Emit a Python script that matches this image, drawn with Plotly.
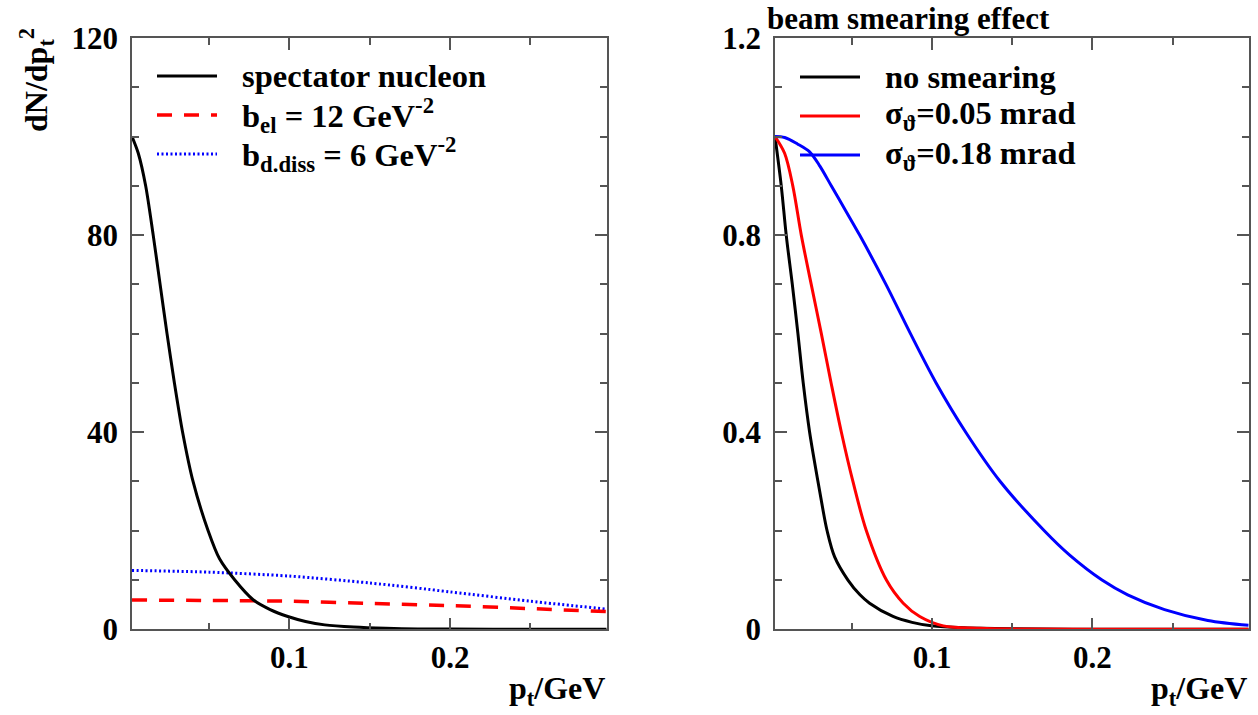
import plotly.graph_objects as go

# ---------------- data ----------------
# left panel: dN/dpt^2
pt_spec = [0.002, 0.0059, 0.0105, 0.0152, 0.0195, 0.0238, 0.0284, 0.0335, 0.0400, 0.0494,
           0.0565, 0.066, 0.0774, 0.088, 0.099, 0.11, 0.122, 0.14, 0.16, 0.18, 0.20, 0.25, 0.2975]
dn_spec = [100, 96.6, 90, 80, 70, 60, 50, 40, 30, 20,
           14.3, 10, 6, 4, 2.6, 1.6, 0.9, 0.45, 0.2, 0.08, 0.04, 0.01, 0.0]

pt_flat = [0.002, 0.05, 0.1, 0.15, 0.2, 0.25, 0.2975]
dn_el = [5.95, 5.85, 5.7, 5.25, 4.8, 4.2, 3.6]
dn_diss = [11.95, 11.6, 10.8, 9.4, 7.6, 5.7, 4.1]

# right panel: beam smearing effect
pt_r_black = [0.002, 0.0059, 0.009, 0.0128, 0.0163, 0.0196, 0.0236, 0.0288, 0.0315, 0.0345,
              0.0392, 0.0475, 0.055, 0.061, 0.0756, 0.0875, 0.0996, 0.12, 0.15, 0.2, 0.2975]
r_black = [1.0, 0.9, 0.8, 0.7, 0.6, 0.5, 0.4, 0.3, 0.25, 0.2,
           0.147, 0.1, 0.07, 0.053, 0.026, 0.014, 0.007, 0.003, 0.001, 0.0, 0.0]

pt_r_red = [0.002, 0.008, 0.0131, 0.0184, 0.0246, 0.0309, 0.037, 0.0434, 0.0506, 0.059,
            0.0715, 0.082, 0.0923, 0.107, 0.13, 0.16, 0.2, 0.2975]
r_red = [1.0, 0.966, 0.9, 0.8, 0.7, 0.6, 0.5, 0.4, 0.3, 0.2,
         0.1, 0.053, 0.026, 0.007, 0.002, 0.0005, 0.0, 0.0]

pt_r_blue = [0.002, 0.008, 0.016, 0.0236, 0.03, 0.0371, 0.046, 0.0548, 0.0712, 0.0865,
             0.1025, 0.121, 0.1425, 0.17, 0.186, 0.206, 0.222, 0.245, 0.272, 0.2975]
r_blue = [1.0, 0.998, 0.985, 0.969, 0.94, 0.9, 0.85, 0.8, 0.7, 0.6,
          0.5, 0.4, 0.3, 0.2, 0.15, 0.1, 0.07, 0.04, 0.018, 0.008]

left_names = ["spectator nucleon", "b<sub>el</sub> = 12 GeV<sup>-2</sup>",
              "b<sub>d.diss</sub> = 6 GeV<sup>-2</sup>"]
right_names = ["no smearing", "σ<sub>ϑ</sub>=0.05 mrad", "σ<sub>ϑ</sub>=0.18 mrad"]

left_yticks = [0, 40, 80, 120]
right_yticks = [0, 0.4, 0.8, 1.2]
right_yticklabels = ["0", "0.4", "0.8", "1.2"]
xticks = [0.1, 0.2]
xticklabels = ["0.1", "0.2"]

# ---------------- styling ----------------
W, H = 1258, 715
FONT = "Liberation Serif"
AX = "#555555"

def fx(p):
    return p / W

def fy(p):
    return 1 - p / H

left_styles = [dict(color="black", width=3, dash="solid"),
               dict(color="#ff0000", width=3.5, dash="15px,12px"),
               dict(color="#0000ff", width=3, dash="2px,2.5px")]
right_styles = [dict(color="black", width=3, dash="solid"),
                dict(color="#ff0000", width=3, dash="solid"),
                dict(color="#0000ff", width=3, dash="solid")]

fig = go.Figure()

left_series = [(pt_spec, dn_spec), (pt_flat, dn_el), (pt_flat, dn_diss)]
for (xs, ys), st, nm in zip(left_series[::-1], left_styles[::-1], left_names[::-1]):
    fig.add_trace(go.Scatter(x=xs, y=ys, mode="lines", name=nm,
                             line=dict(shape="spline", smoothing=0.8, **st),
                             xaxis="x", yaxis="y", showlegend=False, cliponaxis=False))

right_series = [(pt_r_black, r_black), (pt_r_red, r_red), (pt_r_blue, r_blue)]
for (xs, ys), st, nm in zip(right_series, right_styles, right_names):
    fig.add_trace(go.Scatter(x=xs, y=ys, mode="lines", name=nm,
                             line=dict(shape="spline", smoothing=0.9, **st),
                             xaxis="x2", yaxis="y2", showlegend=False))

xdom1 = [fx(132), fx(606.7)]
xdom2 = [fx(775), fx(1248.7)]
ydom = [fy(629.3), fy(38)]
tickfont = dict(family=FONT, size=31, color="black", weight="bold")

def xaxis(dom, anchor):
    return dict(domain=dom, anchor=anchor, range=[0.002, 0.2975], tickmode="array", automargin=False,
                tickvals=xticks, ticktext=xticklabels, ticks="inside", ticklen=12, tickwidth=1.5,
                tickcolor=AX, showline=True, linecolor=AX, linewidth=1.5, mirror="ticks",
                showgrid=False, zeroline=False, tickfont=tickfont, ticklabelstandoff=0,
                minor=dict(tickmode="linear", tick0=0, dtick=0.05, ticks="inside", ticklen=7,
                           tickwidth=1.5, tickcolor=AX, showgrid=False))

def yaxis(dom, anchor, rng, vals, texts, minor_dt):
    return dict(domain=dom, anchor=anchor, range=rng, tickmode="array", tickvals=vals, ticktext=texts,
                automargin=False,
                ticks="inside", ticklen=12, tickwidth=1.5, tickcolor=AX, showline=True, linecolor=AX,
                linewidth=1.5, mirror="ticks", showgrid=False, zeroline=False, tickfont=tickfont,
                ticklabelstandoff=6,
                minor=dict(tickmode="linear", tick0=0, dtick=minor_dt, ticks="inside", ticklen=7,
                           tickwidth=1.5, tickcolor=AX, showgrid=False))

fig.update_layout(
    width=W, height=H, margin=dict(l=0, r=0, t=0, b=0, autoexpand=False),
    paper_bgcolor="white", plot_bgcolor="white", showlegend=False,
    font=dict(family=FONT),
    xaxis=xaxis(xdom1, "y"),
    yaxis=yaxis(ydom, "x", [0, 120], left_yticks, [str(v) for v in left_yticks], 10),
    xaxis2=xaxis(xdom2, "y2"),
    yaxis2=yaxis(ydom, "x2", [0, 1.2], right_yticks, right_yticklabels, 0.1),
)

tfont = dict(family=FONT, size=32, color="black", weight="bold")
hfont = dict(family=FONT, size=31, color="black", weight="bold")
lfont = dict(family=FONT, size=32.5, color="black", weight="bold")

ann = []
shapes = []
# axis titles
ann.append(dict(text="p<sub>t</sub>/GeV", x=fx(606.7), y=fy(690), xref="paper", yref="paper",
                xanchor="right", yanchor="middle", showarrow=False, font=tfont))
ann.append(dict(text="p<sub>t</sub>/GeV", x=fx(1248.7), y=fy(690), xref="paper", yref="paper",
                xanchor="right", yanchor="middle", showarrow=False, font=tfont))
ann.append(dict(text="dN/dp<sub>t</sub><sup>2</sup>", x=fx(37), y=fy(80), xref="paper", yref="paper",
                xanchor="center", yanchor="middle", textangle=-90, showarrow=False, font=tfont))
ann.append(dict(text="beam smearing effect", x=fx(765), y=fy(19), xref="paper", yref="paper",
                xanchor="left", yanchor="middle", showarrow=False, font=hfont))

# legends (drawn manually)
rows = [76, 115, 154]
for nm, st, r in zip(left_names, left_styles, rows):
    shapes.append(dict(type="line", xref="paper", yref="paper", x0=fx(157), x1=fx(217),
                       y0=fy(r), y1=fy(r), line=st))
    ann.append(dict(text=nm, x=fx(240), y=fy(r), xref="paper", yref="paper", xanchor="left",
                    yanchor="middle", showarrow=False, font=lfont))
rows_r = [77, 116, 155]
for nm, st, r in zip(right_names, right_styles, rows_r):
    shapes.append(dict(type="line", xref="paper", yref="paper", x0=fx(800), x1=fx(860),
                       y0=fy(r), y1=fy(r), line=st))
    ann.append(dict(text=nm, x=fx(883), y=fy(r), xref="paper", yref="paper", xanchor="left",
                    yanchor="middle", showarrow=False, font=lfont))

fig.update_layout(annotations=ann, shapes=shapes)
fig.write_html("out.html")
